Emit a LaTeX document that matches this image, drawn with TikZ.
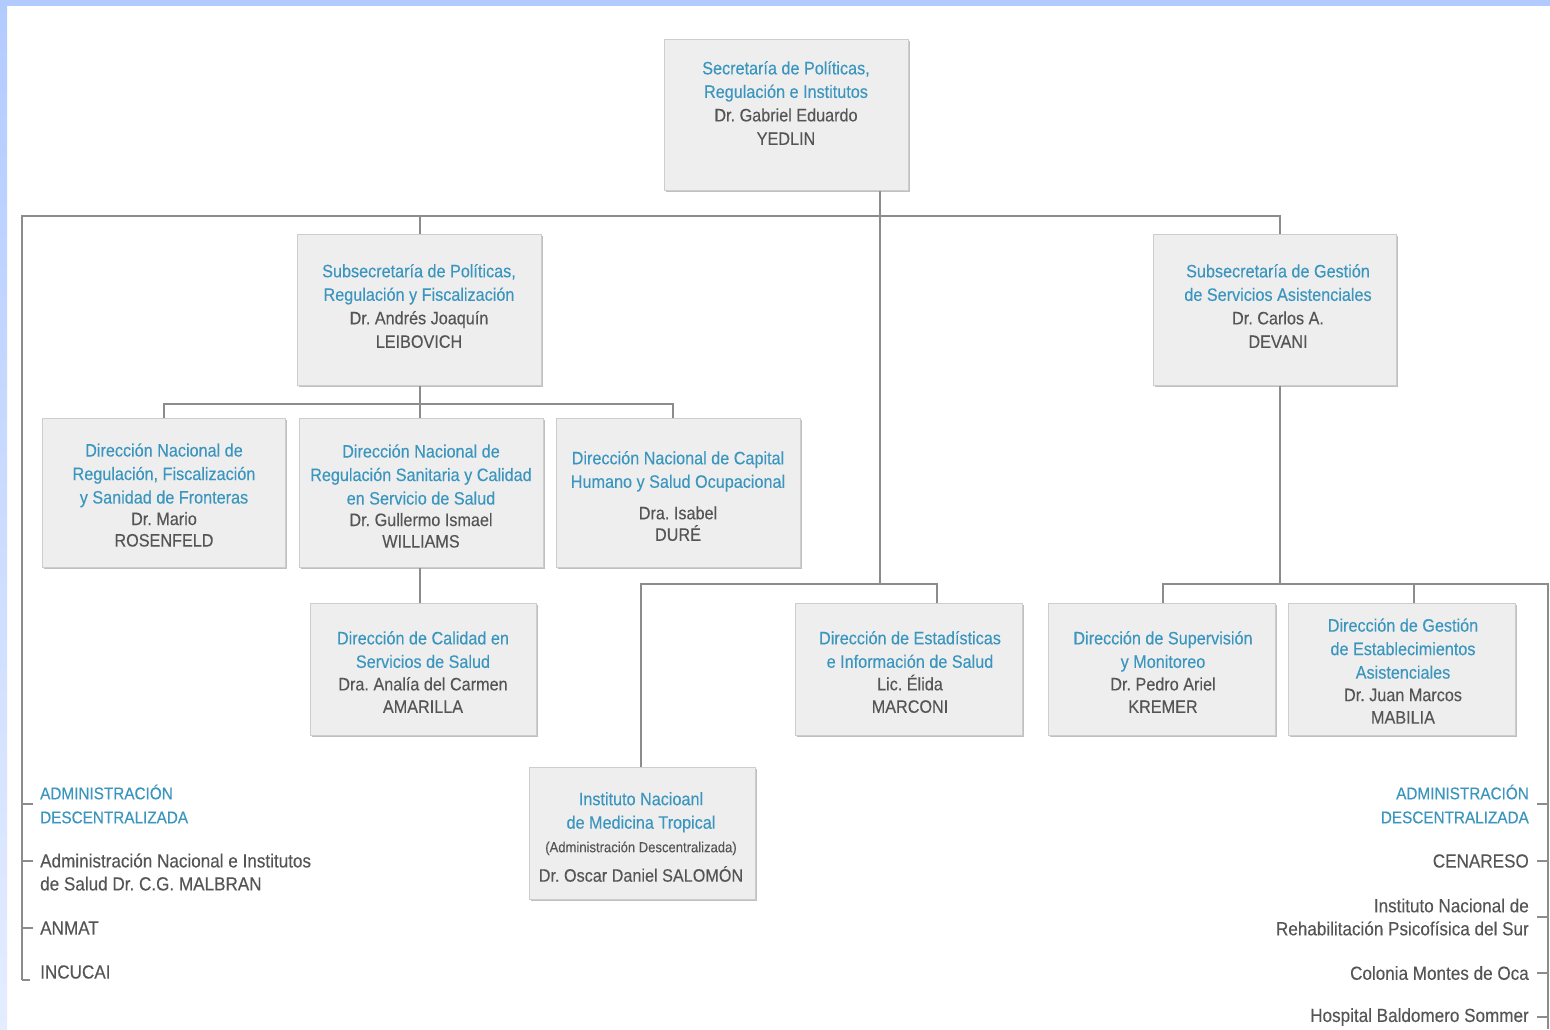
\documentclass[tikz,border=0pt]{standalone}
\usepackage{fontspec}
\setmainfont{Liberation Sans}[FakeStretch=0.9,FakeBold=0.2]
\definecolor{bordblue}{RGB}{178,203,255}
\definecolor{bordpale}{RGB}{228,236,255}
\definecolor{boxfill}{RGB}{238,238,238}
\definecolor{boxline}{RGB}{205,205,205}
\definecolor{boxshade}{RGB}{192,192,192}
\definecolor{conn}{RGB}{140,140,140}
\definecolor{titblue}{RGB}{58,150,190}
\definecolor{namegray}{RGB}{85,85,85}
\newcommand\ttl[1]{\textcolor{titblue}{#1}}
\newcommand\nme[1]{\textcolor{namegray}{#1}}
\frenchspacing
\begin{document}
\begin{tikzpicture}[x=1pt,y=-1pt,
  orgbox/.style={draw=boxline, fill=boxfill, line width=1pt, inner sep=0pt,
    minimum width=#1},
  lbl/.style={align=center, inner sep=0pt, font=\fontsize{18}{23.5}\selectfont},
  lstl/.style={align=left, anchor=west, inner sep=0pt, font=\fontsize{19}{23}\selectfont},
  lstr/.style={align=right, anchor=east, inner sep=0pt, font=\fontsize{19}{23}\selectfont},
  caps/.style={font=\fontsize{17}{24}\selectfont},
  conn/.style={draw=conn, line width=1.5pt}]
\useasboundingbox (0,0) rectangle (1550,1029);
\fill[white] (0,0) rectangle (1550,1029);
% border
\shade[top color=bordblue, bottom color=bordpale] (0,0) rectangle (7,1029);
\fill[bordblue] (0,0) rectangle (1550,6);

% shadows
\foreach \a/\b/\c/\d in {664/39/908/190, 297/234/541/385, 1153/234/1396/385,
  42/418/285/567, 299/418/543/567, 556/418/800/567,
  310/603/536/735, 795/603/1022/735, 1048/603/1275/735, 1288/603/1515/735,
  529/767/755/899}
  \fill[boxshade] (\a+2,\b+2) rectangle (\c+2,\d+2);

% boxes
\node[orgbox=244pt, minimum height=151pt] (sec) at (786,114.5) {};
\node[orgbox=244pt, minimum height=151pt] (sp) at (419,309.5) {};
\node[orgbox=243pt, minimum height=151pt] (sg) at (1274.5,309.5) {};
\node[orgbox=243pt, minimum height=149pt] (d1) at (163.5,492.5) {};
\node[orgbox=244pt, minimum height=149pt] (d2) at (421,492.5) {};
\node[orgbox=244pt, minimum height=149pt] (d3) at (678,492.5) {};
\node[orgbox=226pt, minimum height=132pt] (cal) at (423,669) {};
\node[orgbox=227pt, minimum height=132pt] (est) at (908.5,669) {};
\node[orgbox=227pt, minimum height=132pt] (sup) at (1161.5,669) {};
\node[orgbox=227pt, minimum height=132pt] (ges) at (1401.5,669) {};
\node[orgbox=226pt, minimum height=132pt] (inst) at (642,833) {};

% texts
\node[lbl] (tsec) at (786,103) {\ttl{Secretaría de Políticas,}\\\ttl{Regulación e Institutos}\\\nme{Dr. Gabriel Eduardo}\\\nme{YEDLIN}};
\node[lbl] (tsp) at (419,306) {\ttl{Subsecretaría de Políticas,}\\\ttl{Regulación y Fiscalización}\\\nme{Dr. Andrés Joaquín}\\\nme{LEIBOVICH}};
\node[lbl] (tsg) at (1278,306) {\ttl{Subsecretaría de Gestión}\\\ttl{de Servicios Asistenciales}\\\nme{Dr. Carlos A.}\\\nme{DEVANI}};
\node[lbl] (td1) at (164,495) {\ttl{Dirección Nacional de}\\\ttl{Regulación, Fiscalización}\\\ttl{y Sanidad de Fronteras}\\[-2pt]\nme{Dr. Mario}\\[-2pt]\nme{ROSENFELD}};
\node[lbl] (td2) at (421,496) {\ttl{Dirección Nacional de}\\\ttl{Regulación Sanitaria y Calidad}\\\ttl{en Servicio de Salud}\\[-2pt]\nme{Dr. Gullermo Ismael}\\[-2pt]\nme{WILLIAMS}};
\node[lbl] (td3) at (678,496) {\ttl{Dirección Nacional de Capital}\\\ttl{Humano y Salud Ocupacional}\\[8pt]\nme{Dra. Isabel}\\[-2pt]\nme{DURÉ}};
\node[lbl] (tcal) at (423,672) {\ttl{Dirección de Calidad en}\\\ttl{Servicios de Salud}\\[-1pt]\nme{Dra. Analía del Carmen}\\[-1pt]\nme{AMARILLA}};
\node[lbl] (test) at (910,672) {\ttl{Dirección de Estadísticas}\\\ttl{e Información de Salud}\\[-1pt]\nme{Lic. Élida}\\[-1pt]\nme{MARCONI}};
\node[lbl] (tsup) at (1163,672) {\ttl{Dirección de Supervisión}\\\ttl{y Monitoreo}\\[-1pt]\nme{Dr. Pedro Ariel}\\[-1pt]\nme{KREMER}};
\node[lbl] (tges) at (1403,671) {\ttl{Dirección de Gestión}\\\ttl{de Establecimientos}\\\ttl{Asistenciales}\\[-1pt]\nme{Dr. Juan Marcos}\\[-1pt]\nme{MABILIA}};
\node[lbl] (tinst) at (641,837) {\ttl{Instituto Nacioanl}\\\ttl{de Medicina Tropical}\\\nme{\fontsize{14.5}{24}\selectfont(Administración Descentralizada)}\\[6pt]\nme{Dr. Oscar Daniel SALOMÓN}};

% connector coordinates
\coordinate (tx) at (880,0);
\coordinate (gx) at (1280,0);
\coordinate (busTop) at (0,216);
\coordinate (busMid) at (0,584);
\coordinate (lx) at (22,0);
\coordinate (rx) at (1548,0);
\coordinate (lend) at (22,980);
\coordinate (rend) at (1548,1029);

% top bus
\draw[conn] (sec.south -| tx) -- (tx |- busMid);
\draw[conn] (lend) -- (lx |- busTop) -- (gx |- busTop) -- (gx |- sg.north);
\draw[conn] (sp.north -| 420,0) -- (420,216);
% subsec politicas children
\draw[conn] (sp.south -| 420,0) -- (420,404);
\draw[conn] (d1.north -| 164,0) -- (164,404) -- (673,404) -- (d3.north -| 673,0);
\draw[conn] (420,404) -- (d2.north -| 420,0);
\draw[conn] (d2.south -| 420,0) -- (cal.north -| 420,0);
% middle bus
\draw[conn] (inst.north -| 641,0) -- (641,584) -- (937,584) -- (est.north -| 937,0);
% subsec gestion children
\draw[conn] (sg.south -| gx) -- (gx |- busMid);
\draw[conn] (sup.north -| 1163,0) -- (1163,584) -- (rx |- busMid) -- (rend);
\draw[conn] (ges.north -| 1414,0) -- (1414,584);

% left list
\draw[conn] (lend) -- (30,980);
\foreach \yy in {804,861,928} \draw[conn] (22,\yy) -- (33,\yy);
\node[lstl, caps] (la) at (40,804) {\ttl{ADMINISTRACIÓN}\\\ttl{DESCENTRALIZADA}};
\node[lstl] (lb) at (40,872) {\nme{Administración Nacional e Institutos}\\\nme{de Salud Dr. C.G. MALBRAN}};
\node[lstl] (lc) at (40,928) {\nme{ANMAT}};
\node[lstl] (ld) at (40,972) {\nme{INCUCAI}};

% right list
\foreach \yy in {804,861,917,973,1017} \draw[conn] (1537,\yy) -- (1548,\yy);
\node[lstr, caps] (ra) at (1529,804) {\ttl{ADMINISTRACIÓN}\\\ttl{DESCENTRALIZADA}};
\node[lstr] (rb) at (1529,861) {\nme{CENARESO}};
\node[lstr] (rc) at (1529,917) {\nme{Instituto Nacional de}\\\nme{Rehabilitación Psicofísica del Sur}};
\node[lstr] (rd) at (1529,973) {\nme{Colonia Montes de Oca}};
\node[lstr] (re) at (1529,1017) {\nme{Hospital Baldomero Sommer}};
\end{tikzpicture}
\end{document}
